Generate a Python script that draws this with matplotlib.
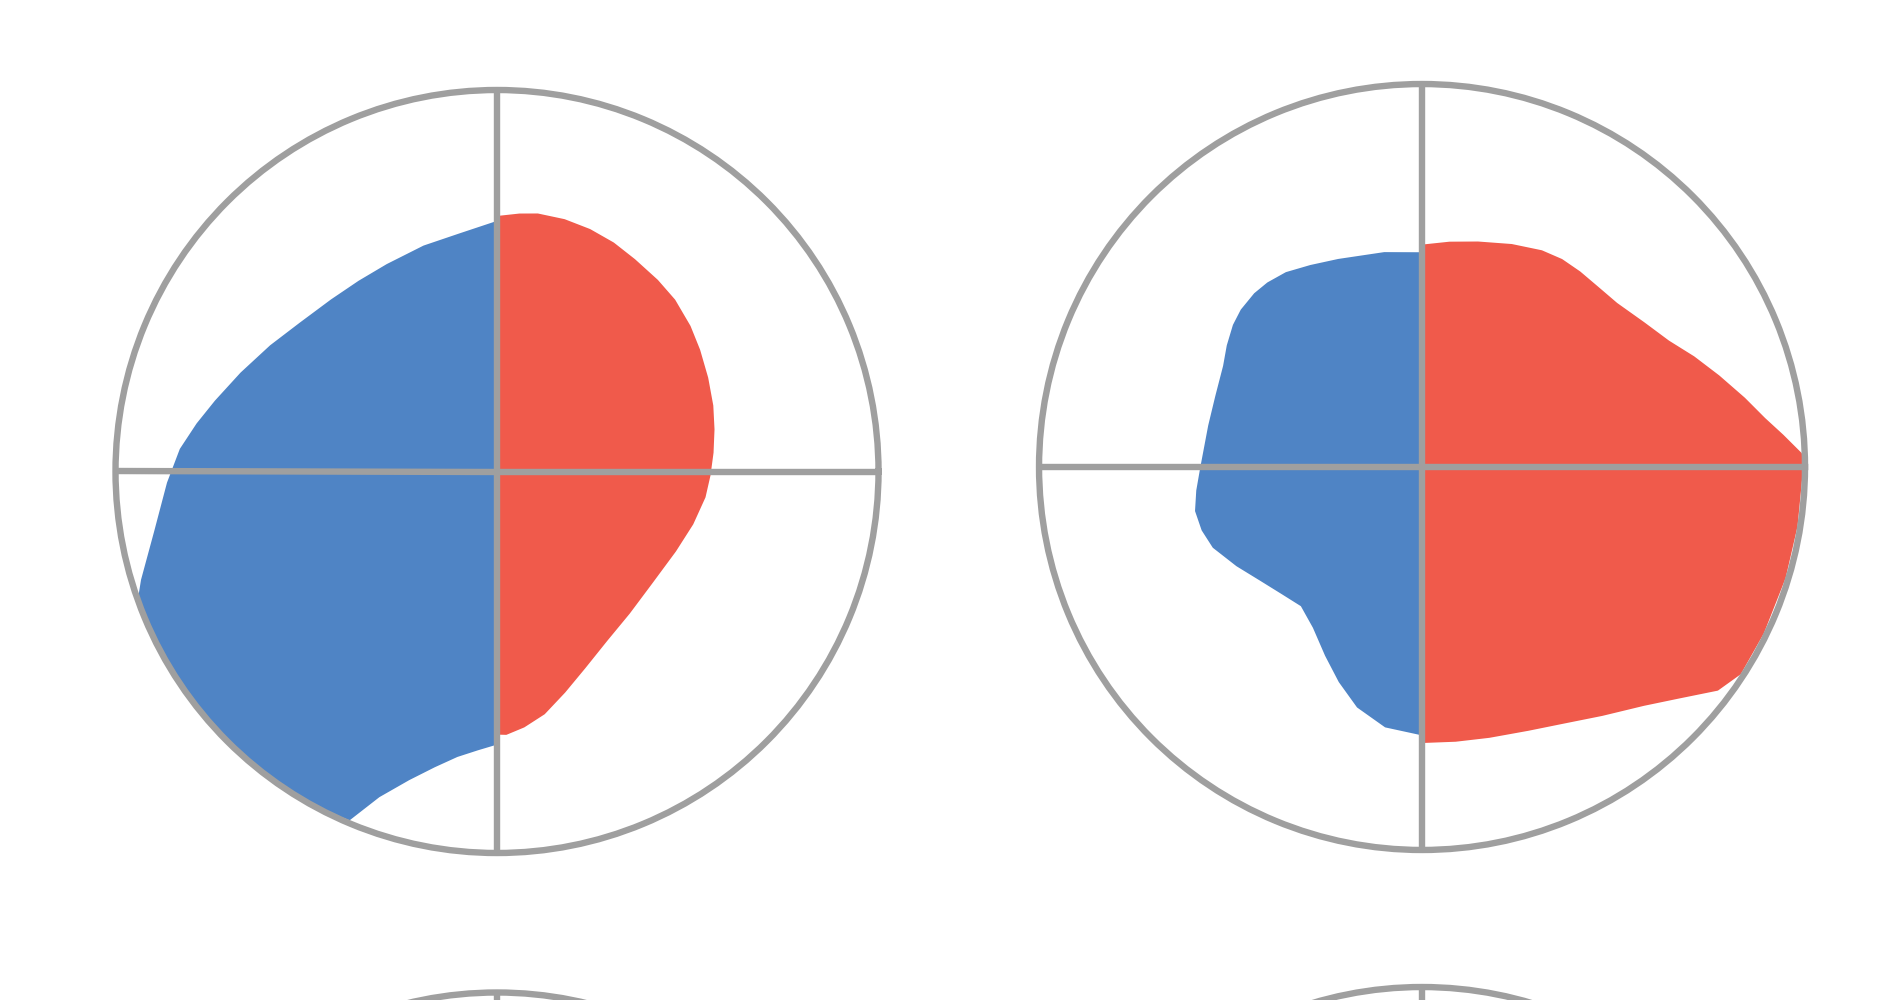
import numpy as np
import matplotlib
matplotlib.use('Agg')
import matplotlib.pyplot as plt

# polar profiles: angle in degrees (0 = east, ccw), radius 0..1
# left panel ---------------------------------------------------------
left_blue_deg = [90, 99, 108, 118, 126, 134, 143, 151, 159, 166, 171, 176, 182, 190, 197, 200, 210, 220, 230, 240, 247, 250, 254, 258, 262, 266, 270]
left_blue_r = [0.654, 0.629, 0.62, 0.613, 0.615, 0.624, 0.645, 0.678, 0.718, 0.76, 0.795, 0.831, 0.863, 0.91, 0.973, 1.0, 1.0, 1.0, 1.0, 1.0, 0.99, 0.906, 0.839, 0.79, 0.753, 0.73, 0.713]

left_red_deg = [90, 85, 81, 75, 69, 63, 57, 50, 44, 37, 31, 24, 17, 11, 5, -1, -7, -15, -24, -36, -47, -57, -66, -73, -79, -84, -88, -90]
left_red_r = [0.667, 0.676, 0.682, 0.682, 0.678, 0.671, 0.661, 0.653, 0.646, 0.632, 0.618, 0.603, 0.59, 0.578, 0.567, 0.557, 0.548, 0.53, 0.511, 0.499, 0.507, 0.527, 0.563, 0.604, 0.646, 0.672, 0.688, 0.687]

# right panel --------------------------------------------------------
right_blue_deg = [90, 100, 112, 119, 125, 130, 134, 139, 143, 148, 153, 161, 169, 180, 186, 191, 196, 201, 208, 215, 222, 229, 236, 243, 249, 255, 262, 270]
right_blue_r = [0.558, 0.567, 0.583, 0.6, 0.618, 0.626, 0.628, 0.624, 0.615, 0.598, 0.58, 0.568, 0.566, 0.576, 0.59, 0.601, 0.596, 0.583, 0.547, 0.514, 0.492, 0.479, 0.505, 0.552, 0.6, 0.648, 0.684, 0.698]

right_red_deg = [90, 83, 76, 68, 61, 56, 51, 45, 40, 33, 27, 22, 17, 12, 8, 5, 2, -2, -9, -17, -26, -33, -37, -42, -47, -54, -61, -68, -76, -83, -90]
right_red_r = [0.578, 0.59, 0.604, 0.625, 0.644, 0.652, 0.654, 0.656, 0.663, 0.69, 0.722, 0.765, 0.81, 0.86, 0.903, 0.945, 0.99, 0.99, 0.99, 0.99, 0.99, 0.99, 0.966, 0.9, 0.849, 0.8, 0.763, 0.74, 0.726, 0.72, 0.718]

BLUE = '#4f84c5'
RED = '#f05a4b'
GRAY = '#9f9f9f'
LW = 4.6


def panel(fig, rect, halves=()):
    ax = fig.add_axes(rect, projection='polar')
    ax.set_ylim(0, 1)
    ax.set_xticks([])
    ax.set_yticks([])
    ax.grid(False)
    ax.spines['polar'].set_color(GRAY)
    ax.spines['polar'].set_linewidth(LW)

    for deg, r, color in halves:
        th = np.radians(deg)
        # close each half through the centre
        ax.fill(np.concatenate([th, [th[-1], th[0]]]),
                np.concatenate([r, [0, 0]]),
                facecolor=color, edgecolor=color, lw=1.5,
                joinstyle='round', zorder=1)

    # crosshair
    for a in [0, 90, 180, 270]:
        ax.plot([np.radians(a)] * 2, [0, 1], color=GRAY, lw=LW, zorder=3,
                solid_capstyle='butt')
    return ax


fig = plt.figure(figsize=(19.03, 10), dpi=100)

panel(fig, [0.0607, 0.147, 0.40095, 0.763],
      [(left_blue_deg, left_blue_r, BLUE), (left_red_deg, left_red_r, RED)])
panel(fig, [0.546, 0.150, 0.4025, 0.766],
      [(right_blue_deg, right_blue_r, BLUE), (right_red_deg, right_red_r, RED)])

# next row, only the top edge shows in the frame
panel(fig, [0.0607, -0.7555, 0.40095, 0.763])
panel(fig, [0.546, -0.753, 0.4025, 0.766])

fig.savefig('out.png', dpi=100, facecolor='white')
